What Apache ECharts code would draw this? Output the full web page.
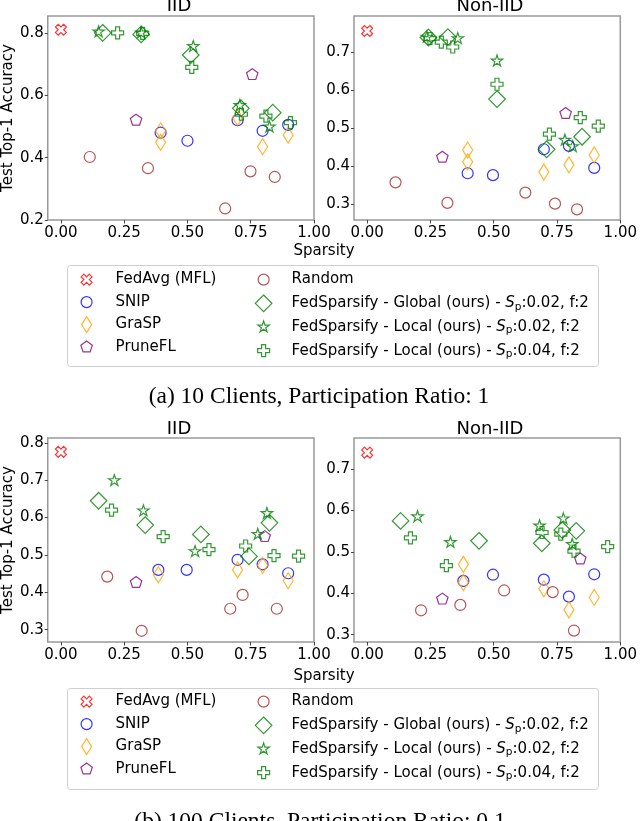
<!DOCTYPE html>
<html>
<head>
<meta charset="utf-8">
<script src="https://cdn.jsdelivr.net/npm/echarts@6/dist/echarts.min.js"></script>
<style>
  html, body { margin: 0; padding: 0; background: #fff; }
  #chart { width: 640px; height: 821px; }
</style>
</head>
<body>
<div id="chart"></div>
<script>
// ---- data: [sparsity, test top-1 accuracy] ----
// (a) 10 clients, IID
const a_iid_fedavg = [[0, 0.81]];
const a_iid_random = [[0.114, 0.402], [0.344, 0.366], [0.649, 0.237], [0.749, 0.356], [0.845, 0.338]];
const a_iid_snip = [[0.394, 0.480], [0.5, 0.454], [0.698, 0.520], [0.797, 0.486], [0.898, 0.505]];
const a_iid_grasp = [[0.394, 0.486], [0.394, 0.449], [0.698, 0.528], [0.797, 0.435], [0.898, 0.472]];
const a_iid_prunefl = [[0.297, 0.520], [0.756, 0.666]];
const a_iid_global = [[0.165, 0.80], [0.317, 0.795], [0.513, 0.729], [0.711, 0.558], [0.837, 0.544]];
const a_iid_local2 = [[0.149, 0.803], [0.317, 0.80], [0.523, 0.756], [0.707, 0.567], [0.824, 0.498]];
const a_iid_local4 = [[0.224, 0.80], [0.323, 0.798], [0.517, 0.689], [0.713, 0.539], [0.81, 0.533], [0.907, 0.512]];

// (a) 10 clients, Non-IID
const a_non_fedavg = [[0, 0.755]];
const a_non_random = [[0.112, 0.357], [0.317, 0.303], [0.625, 0.330], [0.742, 0.301], [0.829, 0.286]];
const a_non_snip = [[0.397, 0.381], [0.497, 0.376], [0.698, 0.444], [0.797, 0.453], [0.897, 0.395]];
const a_non_grasp = [[0.397, 0.442], [0.397, 0.411], [0.698, 0.384], [0.797, 0.403], [0.897, 0.429]];
const a_non_prunefl = [[0.297, 0.423], [0.784, 0.538]];
const a_non_global = [[0.242, 0.738], [0.319, 0.739], [0.513, 0.576], [0.709, 0.444], [0.849, 0.477]];
const a_non_local2 = [[0.236, 0.739], [0.358, 0.735], [0.513, 0.676], [0.781, 0.468], [0.812, 0.451]];
const a_non_local4 = [[0.248, 0.735], [0.293, 0.726], [0.338, 0.713], [0.513, 0.615], [0.72, 0.484], [0.842, 0.527], [0.913, 0.505]];

// (b) 100 clients, IID
const b_iid_fedavg = [[0, 0.776]];
const b_iid_random = [[0.183, 0.442], [0.319, 0.297], [0.669, 0.356], [0.718, 0.393], [0.853, 0.356]];
const b_iid_snip = [[0.385, 0.460], [0.497, 0.460], [0.698, 0.487], [0.797, 0.475], [0.898, 0.451]];
const b_iid_grasp = [[0.385, 0.447], [0.698, 0.460], [0.797, 0.472], [0.898, 0.431]];
const b_iid_prunefl = [[0.297, 0.426], [0.805, 0.549]];
const b_iid_global = [[0.149, 0.645], [0.333, 0.580], [0.553, 0.555], [0.743, 0.496], [0.824, 0.586]];
const b_iid_local2 = [[0.211, 0.699], [0.326, 0.618], [0.530, 0.509], [0.778, 0.555], [0.814, 0.611]];
const b_iid_local4 = [[0.200, 0.620], [0.404, 0.549], [0.585, 0.514], [0.730, 0.524], [0.842, 0.498], [0.939, 0.497]];

// (b) 100 clients, Non-IID
const b_non_fedavg = [[0, 0.740]];
const b_non_random = [[0.213, 0.359], [0.368, 0.372], [0.541, 0.407], [0.733, 0.403], [0.817, 0.310]];
const b_non_snip = [[0.380, 0.430], [0.497, 0.445], [0.698, 0.433], [0.797, 0.392], [0.897, 0.446]];
const b_non_grasp = [[0.380, 0.470], [0.380, 0.426], [0.698, 0.411], [0.797, 0.360], [0.897, 0.390]];
const b_non_prunefl = [[0.297, 0.386], [0.842, 0.483]];
const b_non_global = [[0.132, 0.575], [0.442, 0.527], [0.690, 0.521], [0.771, 0.553], [0.826, 0.551]];
const b_non_local2 = [[0.199, 0.585], [0.329, 0.523], [0.681, 0.563], [0.775, 0.580], [0.810, 0.518]];
const b_non_local4 = [[0.171, 0.534], [0.313, 0.467], [0.691, 0.547], [0.765, 0.543], [0.817, 0.502], [0.950, 0.513]];

const xTicks = [0, 0.25, 0.5, 0.75, 1.0];
const yTicksA_iid = [0.2, 0.4, 0.6, 0.8];
const yTicksA_non = [0.3, 0.4, 0.5, 0.6, 0.7];
const yTicksB_iid = [0.3, 0.4, 0.5, 0.6, 0.7, 0.8];
const yTicksB_non = [0.3, 0.4, 0.5, 0.6, 0.7];

const methodNames = [
    'FedAvg (MFL)', 'SNIP', 'GraSP', 'PruneFL', 'Random',
    'FedSparsify - Global (ours) - Sp:0.02, f:2',
    'FedSparsify - Local (ours) - Sp:0.02, f:2',
    'FedSparsify - Local (ours) - Sp:0.04, f:2'
];

const panels = [
    { title: 'IID', data: [a_iid_fedavg, a_iid_snip, a_iid_grasp, a_iid_prunefl, a_iid_random, a_iid_global, a_iid_local2, a_iid_local4] },
    { title: 'Non-IID', data: [a_non_fedavg, a_non_snip, a_non_grasp, a_non_prunefl, a_non_random, a_non_global, a_non_local2, a_non_local4] },
    { title: 'IID', data: [b_iid_fedavg, b_iid_snip, b_iid_grasp, b_iid_prunefl, b_iid_random, b_iid_global, b_iid_local2, b_iid_local4] },
    { title: 'Non-IID', data: [b_non_fedavg, b_non_snip, b_non_grasp, b_non_prunefl, b_non_random, b_non_global, b_non_local2, b_non_local4] }
];

// ---- marker shapes (pixel units, padded to a 20x20 box) ----
const BOX = 10;
function pathOf(pts) {
    let s = 'path://M' + (-BOX) + ' ' + (-BOX) + ' M' + BOX + ' ' + BOX + ' ';
    s += pts.map((p, i) => (i ? 'L' : 'M') + p[0].toFixed(2) + ' ' + p[1].toFixed(2)).join(' ');
    return s + ' Z';
}
function plusPts(a, w) {
    return [[-w, -a], [w, -a], [w, -w], [a, -w], [a, w], [w, w], [w, a], [-w, a], [-w, w], [-a, w], [-a, -w], [-w, -w]];
}
function rotate(pts, deg) {
    const r = deg * Math.PI / 180, c = Math.cos(r), s = Math.sin(r);
    return pts.map(p => [p[0] * c - p[1] * s, p[0] * s + p[1] * c]);
}
function starPts(ro, ri) {
    const pts = [];
    for (let k = 0; k < 10; k++) {
        const r = k % 2 ? ri : ro;
        const a = (-90 + k * 36) * Math.PI / 180;
        pts.push([r * Math.cos(a), r * Math.sin(a)]);
    }
    return pts;
}
function polyPts(n, r) {
    const pts = [];
    for (let k = 0; k < n; k++) {
        const a = (-90 + k * 360 / n) * Math.PI / 180;
        pts.push([r * Math.cos(a), r * Math.sin(a)]);
    }
    return pts;
}
const circle = 'path://M' + (-BOX) + ' ' + (-BOX) + ' M' + BOX + ' ' + BOX + ' M-5.5 0 A5.5 5.5 0 1 1 5.5 0 A5.5 5.5 0 1 1 -5.5 0 Z';

const methodStyle = [
    { symbol: pathOf(rotate(plusPts(5.8, 1.95), 45)), color: '#ff0000' },
    { symbol: circle, color: '#0000ff' },
    { symbol: pathOf([[0, -8], [5, 0], [0, 8], [-5, 0]]), color: '#ffa500' },
    { symbol: pathOf(polyPts(5, 6)), color: '#800080' },
    { symbol: circle, color: '#a52a2a' },
    { symbol: pathOf([[0, -8.3], [8.3, 0], [0, 8.3], [-8.3, 0]]), color: '#008000' },
    { symbol: pathOf(starPts(6, 2.3)), color: '#008000' },
    { symbol: pathOf(plusPts(6, 2)), color: '#008000' }
];

const grids = [
    { left: 44, top: 16, width: 270, height: 204 },
    { left: 354, top: 16, width: 271, height: 204 },
    { left: 44, top: 438, width: 270, height: 204 },
    { left: 354, top: 438, width: 271, height: 204 }
];
const yRanges = [[0.2, 0.854, yTicksA_iid], [0.258, 0.7945, yTicksA_non], [0.267, 0.813, yTicksB_iid], [0.2824, 0.7754, yTicksB_non]];

const font = 'DejaVu Sans';

const option = {
    animation: false,
    grid: grids.map(g => Object.assign({ show: true, borderColor: '#999', borderWidth: 1.5, backgroundColor: '#fff' }, g)),
    xAxis: grids.map((g, i) => ({
        type: 'value', gridIndex: i, min: -0.052, max: 1.0,
        splitLine: { show: false },
        axisLine: { show: false, onZero: false },
        axisTick: { show: true, length: 3.5, lineStyle: { color: '#444' }, customValues: xTicks },
        axisLabel: {
            customValues: xTicks, margin: 6, fontSize: 15, fontFamily: font, color: '#000',
            formatter: v => v.toFixed(2)
        }
    })),
    yAxis: yRanges.map((r, i) => ({
        type: 'value', gridIndex: i, min: r[0], max: r[1],
        splitLine: { show: false },
        axisLine: { show: false, onZero: false },
        axisTick: { show: true, length: 3, lineStyle: { color: '#444' }, customValues: r[2] },
        axisLabel: {
            customValues: r[2], margin: 4, fontSize: 15, fontFamily: font, color: '#000',
            formatter: v => v.toFixed(1)
        },
        name: i % 2 === 0 ? 'Test Top-1 Accuracy' : '',
        nameLocation: 'middle', nameGap: 28,
        nameTextStyle: { fontSize: 15, fontFamily: font, color: '#000' }
    })),
    legend: [],
    graphic: [],
    series: []
};

panels.forEach((p, gi) => {
    p.data.forEach((d, mi) => {
        option.series.push({
            type: 'scatter', name: methodNames[mi],
            xAxisIndex: gi, yAxisIndex: gi,
            data: d, symbol: methodStyle[mi].symbol, symbolSize: 20,
            silent: true,
            itemStyle: { color: 'rgba(0,0,0,0)', borderColor: methodStyle[mi].color, borderWidth: 1.2, opacity: 0.8 }
        });
    });
});

// legends (two columns each)
function legendItem(mi) {
    return {
        name: methodNames[mi], icon: methodStyle[mi].symbol,
        itemStyle: { color: 'rgba(0,0,0,0)', borderColor: methodStyle[mi].color, borderWidth: 1.2, opacity: 0.8 }
    };
}
const legendText = {
    fontFamily: font, fontSize: 15, color: '#000',
    rich: {
        it: { fontFamily: font, fontSize: 15, fontStyle: 'italic', color: '#000' },
        sub: { fontFamily: font, fontSize: 10.5, color: '#000', padding: [7, 0, 0, 0] }
    }
};
function legendFmt(name) {
    return name.replace('Sp:', '{it|S}{sub|p}:');
}
[269, 691].forEach(top => {
    option.legend.push({
        orient: 'vertical', left: 76, top: top, padding: 0, itemWidth: 48, itemHeight: 20, itemGap: 1.3,
        selectedMode: false, textStyle: legendText, formatter: legendFmt,
        data: [0, 1, 2, 3].map(legendItem)
    });
    option.legend.push({
        orient: 'vertical', left: 253, top: top, padding: 0, itemWidth: 46, itemHeight: 20, itemGap: 2.5,
        selectedMode: false, textStyle: legendText, formatter: legendFmt,
        data: [4, 5, 6, 7].map(legendItem)
    });
});

// frames, titles, axis names, captions
function txt(x, y, s, size, fam) {
    return {
        type: 'text', x: x, y: y, silent: true,
        style: { text: s, fontSize: size, fontFamily: fam || font, fill: '#000', align: 'center', verticalAlign: 'middle' }
    };
}
option.graphic.push(
    { type: 'rect', shape: { x: 67.5, y: 265.5, width: 531, height: 101, r: 3 }, style: { fill: 'none', stroke: '#cfcfcf', lineWidth: 1 }, silent: true, z: -1 },
    { type: 'rect', shape: { x: 67.5, y: 688.5, width: 531, height: 101, r: 3 }, style: { fill: 'none', stroke: '#cfcfcf', lineWidth: 1 }, silent: true, z: -1 },
    txt(179, 6, panels[0].title, 18),
    txt(490, 6, panels[1].title, 18),
    txt(179, 429, panels[2].title, 18),
    txt(490, 429, panels[3].title, 18),
    txt(324, 251, 'Sparsity', 15),
    txt(324, 676, 'Sparsity', 15),
    txt(319, 397, '(a) 10 Clients, Participation Ratio: 1', 23.5, 'Liberation Serif'),
    txt(320, 822, '(b) 100 Clients, Participation Ratio: 0.1', 23.5, 'Liberation Serif')
);

const myChart = echarts.init(document.getElementById('chart'), null, { renderer: 'canvas' });
myChart.setOption(option);
window.addEventListener('resize', () => {
    myChart.resize();
});
</script>
</body>
</html>
